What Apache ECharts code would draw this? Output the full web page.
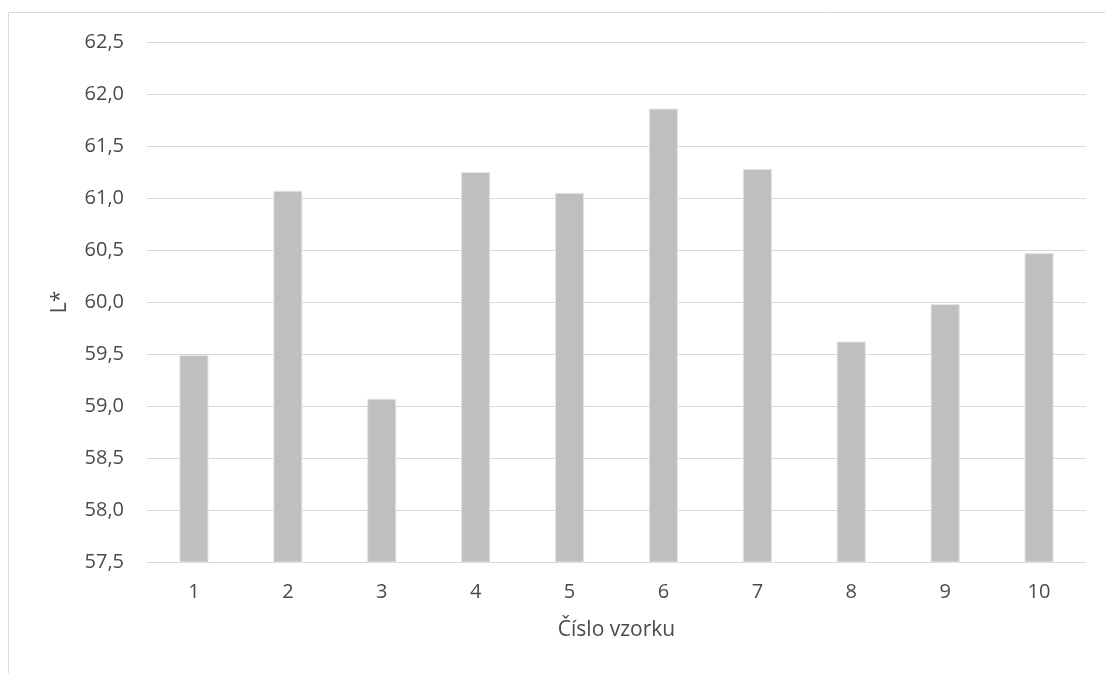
<!DOCTYPE html>
<html>
<head>
<meta charset="utf-8">
<script src="https://cdn.jsdelivr.net/npm/echarts@6/dist/echarts.min.js"></script>
<style>
  html, body { margin: 0; padding: 0; background: #fff; }
  #chart { width: 1105px; height: 673px; }
</style>
</head>
<body>
<div id="chart"></div>
<script>
// Sample numbers and their L* lightness values
const categories = ['1', '2', '3', '4', '5', '6', '7', '8', '9', '10'];
const lightness = [59.49, 61.07, 59.07, 61.25, 61.05, 61.86, 61.28, 59.62, 59.98, 60.47];

const xTitle = 'Číslo vzorku';
const yTitle = 'L*';

const textColor = '#4a4a4a';
const gridColor = '#d9d9d9';
const fontFamily = '"Open Sans", "Noto Sans", sans-serif';

const chart = echarts.init(document.getElementById('chart'), null, { renderer: 'canvas' });

chart.setOption({
  backgroundColor: '#ffffff',
  animation: false,
  graphic: [{
    type: 'rect',
    shape: { x: 8.5, y: 12.5, width: 1110, height: 680 },
    style: { fill: 'none', stroke: '#d9d9d9', lineWidth: 1 },
    silent: true
  }],
  grid: { left: 147, right: 19, top: 42, bottom: 111, containLabel: false },
  xAxis: {
    type: 'category',
    data: categories,
    name: xTitle,
    nameLocation: 'middle',
    nameGap: 58,
    nameTextStyle: { color: textColor, fontSize: 21, fontFamily: fontFamily },
    axisLine: { show: true, lineStyle: { color: gridColor, width: 1 } },
    axisTick: { show: false },
    axisLabel: { color: textColor, fontSize: 20, fontFamily: fontFamily, margin: 20 },
    splitLine: { show: false }
  },
  yAxis: {
    type: 'value',
    min: 57.5,
    max: 62.5,
    interval: 0.5,
    name: yTitle,
    nameLocation: 'middle',
    nameGap: 76,
    nameRotate: 90,
    nameTextStyle: { color: textColor, fontSize: 21, fontFamily: fontFamily },
    axisLine: { show: false },
    axisTick: { show: false },
    axisLabel: {
      color: textColor, fontSize: 20, fontFamily: fontFamily, margin: 23,
      formatter: v => v.toFixed(1).replace('.', ',')
    },
    splitLine: { show: true, lineStyle: { color: gridColor, width: 1 } }
  },
  series: [{
    type: 'bar',
    data: lightness,
    barWidth: '31%',
    itemStyle: { color: '#bfbfbf', borderColor: '#e4e4e4', borderWidth: 1 }
  }]
});
</script>
</body>
</html>
